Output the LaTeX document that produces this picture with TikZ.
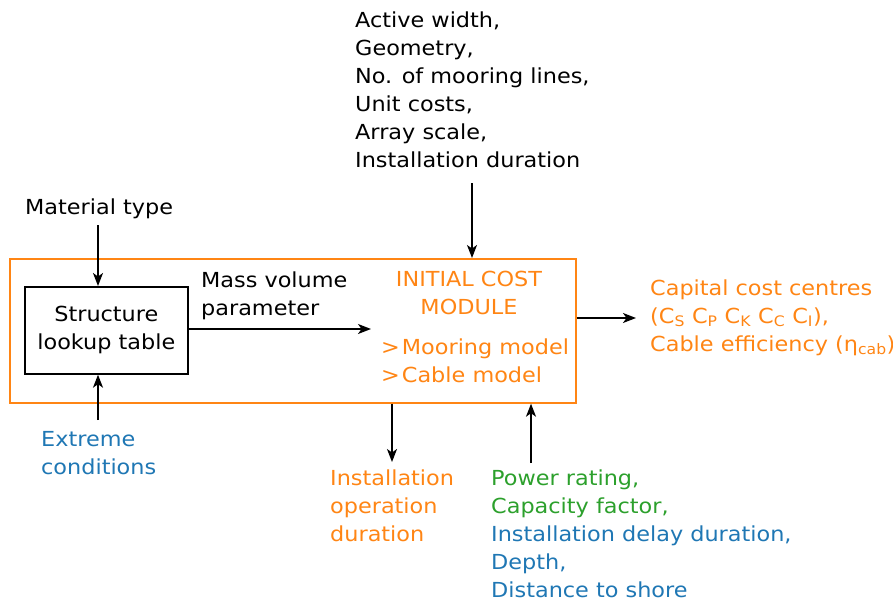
\documentclass[tikz,border=0pt]{standalone}
\usepackage{fontspec}
\setmainfont{DejaVu Sans}[FakeStretch=1.08]
\usetikzlibrary{arrows.meta}
\definecolor{cOrange}{RGB}{255,133,20}
\definecolor{cGreen}{RGB}{44,160,44}
\definecolor{cBlue}{RGB}{31,119,180}
\begin{document}
\begin{tikzpicture}[x=1pt,y=-1pt,
  txt/.style={inner sep=0pt, anchor=base west, align=left,
    font=\fontsize{20.7}{28}\selectfont},
  arr/.style={-{Stealth[length=13pt,width=10pt,inset=3.5pt]}, line width=1.5pt},
  frame/.style={draw=cOrange, line width=1.7pt, inner sep=0pt, anchor=north west},
  boxed/.style={draw, line width=1.7pt, inner sep=0pt, anchor=north west, align=center,
    font=\fontsize{20.7}{28}\selectfont}]
\useasboundingbox (0,0) rectangle (893,605);

% main module frame and the lookup table inside it
\node[frame, minimum width=566pt, minimum height=144pt] (module) at (9,258) {};
\node[boxed, minimum width=163pt, minimum height=87pt] (lut) at (24,286)
  {Structure\\lookup table};

% labels (anchored on the baseline of their last line)
\node[txt] (mat) at (25,214) {Material type};
\node[txt, text=cBlue] (ext) at (41,474) {Extreme\\conditions};
\node[txt] (mvp) at (201,315) {Mass volume\\parameter};
\node[txt, anchor=base, align=center, text=cOrange] (icm) at (469,314) {INITIAL COST\\MODULE};
\node[txt, text=cOrange] (mods) at (381,382) {>\hspace{2pt}Mooring model\\>\hspace{2pt}Cable model};
\node[txt] (params) at (355,167) {Active width,\\Geometry,\\No. of mooring lines,\\Unit costs,\\Array scale,\\Installation duration};
\node[txt, text=cOrange] (cap) at (650,351)
  {Capital cost centres\\(C\textsubscript{S} C\textsubscript{P} C\textsubscript{K} C\textsubscript{C} C\textsubscript{I}),\\Cable efficiency (η\textsubscript{cab})};
\node[txt, text=cOrange] (iod) at (330,541) {Installation\\operation\\duration};
\node[txt] (inp) at (491,597)
  {\textcolor{cGreen}{Power rating,}\\\textcolor{cGreen}{Capacity factor,}\\\textcolor{cBlue}{Installation delay duration,}\\\textcolor{cBlue}{Depth,}\\\textcolor{cBlue}{Distance to shore}};

% free ends of the connectors
\coordinate (matA) at (98,225);
\coordinate (extA) at (98,420);
\coordinate (mvEnd) at (371,329);
\coordinate (topA) at (472,183);
\coordinate (capA) at (636,318);
\coordinate (iodA) at (392,462);
\coordinate (inpA) at (531,463);

% connectors
\draw[arr] (matA) -- (matA |- lut.north);
\draw[arr] (extA) -- (extA |- lut.south);
\draw[arr] (lut.east |- mvEnd) -- (mvEnd);
\draw[arr] (topA) -- (topA |- module.north);
\draw[arr] (module.east |- capA) -- (capA);
\draw[arr] (iodA |- module.south) -- (iodA);
\draw[arr] (inpA) -- (inpA |- module.south);
\end{tikzpicture}
\end{document}
